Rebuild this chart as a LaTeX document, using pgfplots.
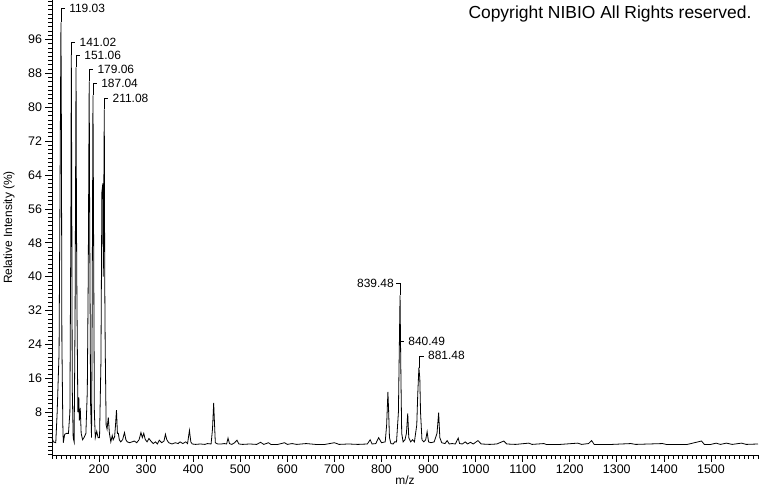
\documentclass[border=0pt]{standalone}
\usepackage{fontspec}
\setmainfont{Liberation Sans}
\usepackage{pgfplots}
\pgfplotsset{compat=1.18}
\newcommand{\pk}[4]{% x, peak, label y, text
  \draw (axis cs:#1,#2) -- (axis cs:#1,#3) -- ([xshift=4bp]axis cs:#1,#3)
    node[anchor=west, inner sep=0pt, xshift=4bp, font=\fontsize{12}{14}\selectfont] {#4};}
\begin{document}
\begin{tikzpicture}
\useasboundingbox (-52bp,-37bp) rectangle (708bp,455bp);
\begin{axis}[
  at={(0,0)}, anchor=south west,
  scale only axis, width=706bp, height=455bp,
  xmin=100, xmax=1600, ymin=-2.1, ymax=105.3,
  axis x line*=bottom, axis y line*=left,
  axis line style={-, line width=0.9bp},
  tick align=outside,
  major tick length=6.5bp, minor tick length=3.5bp,
  tick style={black, line width=0.7bp},
  xtick={200,300,...,1500},
  minor xtick={100,110,...,1600},
  ytick={8,16,...,96},
  minor ytick={-2,-1,...,105},
  /pgf/number format/assume math mode=true,
  /pgf/number format/1000 sep={},
  tick label style={font=\fontsize{12.5}{14}\selectfont},
  xlabel={m/z}, ylabel={Relative Intensity (\%)},
  label style={font=\fontsize{12}{14}\selectfont},
  xlabel style={at={(axis description cs:0.5,0)}, anchor=center, yshift=-25bp},
  ylabel style={at={(axis description cs:-0.0609,0.5)}, anchor=center},
  clip=false,
]
\addplot[black, line width=0.8bp] table {
x y
100 2.0
103 1.0
108 0.8
111 8
115 22
117 60
119.03 100
120 75
121 25
123 5
124 0.8
127 2.8
131 3
135 3
138 8
140 50
141.02 92.4
142 60
143 14
145 2
147 1.0
149 30
151.06 89.4
152 53
153 34
155 8
157 11.5
158 6
160 9
162 3
165 1.5
168 2
172 3
175 13
177 40
179.06 86.1
180 55
182 10
184 2
185 22
187.04 82.8
188 60
190 8
192 2
195 3.5
198 2
201 2
204 20
206 60
208 62
209 40
211.08 79.5
212 40
213 24
215 5
217 4
219.6 6.8
222 3
225 1
228 2.5
230 1.5
233 2.2
235 5
237 8.5
239 3
241 3
243 1.5
246 1
250 1.5
254 3.2
257 1.5
260 1
265 0.8
270 1
275 1.2
280 0.8
285 1.5
289 3.2
292 2
295 3
298 1.6
302 1
306 1.8
310 1.2
315 0.6
320 1
324 0.5
328 1.4
333 0.8
338 1.2
341 2.8
344 1.5
348 0.8
355 0.5
362 0.8
368 0.6
372 1
378 0.6
384 1.0
388 0.6
392 3.7
395 1
398 0.5
405 0.4
415 0.5
425 0.4
430 0.6
438 0.5
441 4
443.5 10.2
445 6
447 0.8
452 0.5
460 0.5
466 0.6
471 0.5
474 1.9
477 0.6
482 0.4
488 0.8
493 1.4
497 0.5
505 0.4
520 0.5
535 0.4
543 0.9
550 0.4
560 0.8
565 0.4
580 0.4
594 0.8
600 0.4
610 0.6
620 0.4
640 0.6
660 0.4
680 0.4
700 0.8
710 0.4
730 0.5
750 0.4
770 0.5
776 1.5
780 0.5
788 0.6
794 2
800 0.8
808 1
811 5
813.7 12.8
815 9
817 2
820 0.6
825 0.5
828 1
832 1
836 8
839.48 35.6
840.49 24.7
841.5 15
843 3
846 1
850 1.5
853 3
855.8 7.7
858 2
862 1
866 1.5
870 1
875 5
877 12
879.5 18.5
881.48 16
883 8
886 1.5
890 1
894 1.5
897 3.4
900 1
905 0.8
912 1
918 3
921.5 7.9
924 2
928 0.8
935 0.6
939.5 1.3
944 0.5
950 0.6
957 0.5
963 1.9
966 0.6
972 0.5
978 1.0
983 0.5
989 0.9
995 0.5
1005 1.3
1012 0.5
1030 0.4
1045 0.5
1060 1.2
1066 0.5
1085 0.4
1113 0.7
1120 0.4
1145 0.6
1150 0.4
1180 0.4
1217 0.7
1225 0.4
1240 0.6
1246.5 1.3
1252 0.4
1290 0.4
1330 0.6
1340 0.4
1397 0.6
1405 0.4
1450 0.4
1480 1.2
1486 0.4
1500 0.4
1511 0.7
1520 0.4
1533 0.7
1545 0.4
1565 0.7
1575 0.4
1600 0.5
};
% peak annotations
\begin{scope}[black, line width=0.7bp]
\pk{119.03}{100}{103.4}{119.03}
\pk{141.02}{92.4}{95.2}{141.02}
\pk{151.06}{89.4}{92.2}{151.06}
\pk{179.06}{86.1}{88.9}{179.06}
\pk{187.04}{82.8}{85.6}{187.04}
\pk{211.08}{79.5}{82.1}{211.08}
\pk{881.48}{18.5}{21.3}{881.48}
\draw (axis cs:839.48,35.6) -- (axis cs:839.48,38.4) -- ([xshift=-4bp]axis cs:839.48,38.4)
  node[anchor=east, inner sep=0pt, xshift=-2bp, font=\fontsize{12}{14}\selectfont] {839.48};
\draw (axis cs:839.48,24.7) -- ([xshift=4bp]axis cs:839.48,24.7)
  node[anchor=west, inner sep=0pt, xshift=4bp, font=\fontsize{12}{14}\selectfont] {840.49};
\end{scope}
\node[anchor=base east, inner sep=0pt, font=\fontsize{17.5}{20}\selectfont] at (rel axis cs:0.991,1) [yshift=-18.3bp] {Copyright NIBIO All Rights reserved.};
\end{axis}
\end{tikzpicture}
\end{document}
